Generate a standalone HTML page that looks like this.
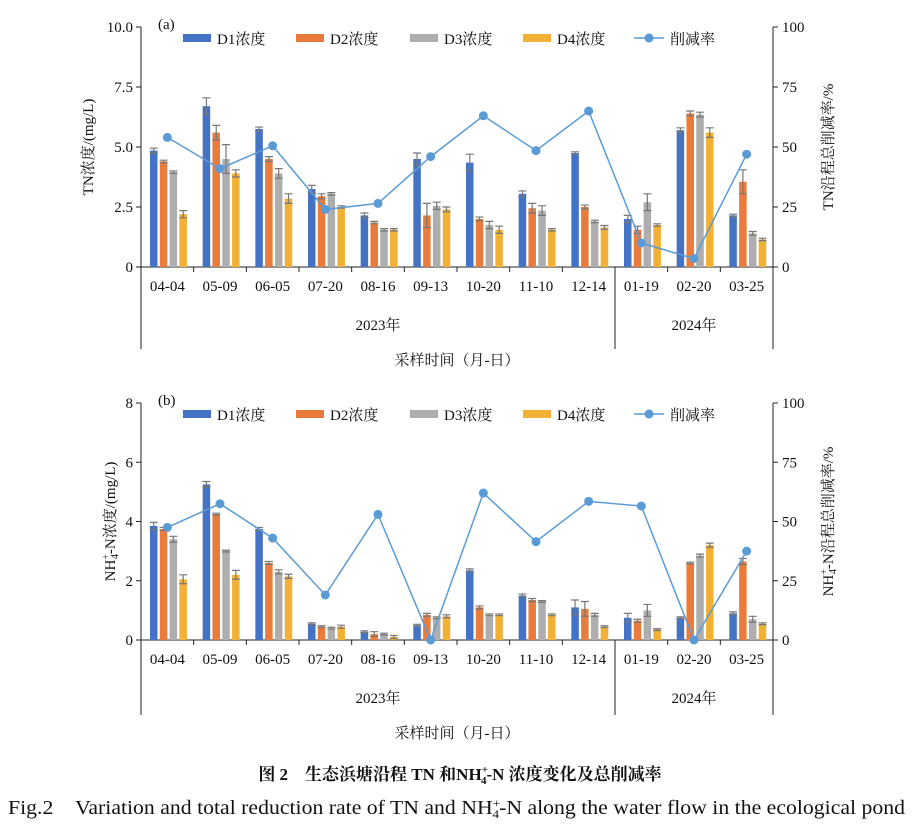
<!DOCTYPE html>
<html><head><meta charset="utf-8"><style>
body{margin:0;background:#fff;}
svg text{font-family:"Liberation Serif","Noto Serif CJK SC",serif;fill:#111;}
</style></head><body>
<svg id="svg" width="920" height="825" viewBox="0 0 920 825" xmlns="http://www.w3.org/2000/svg">
<text x="460" y="780" text-anchor="middle" font-size="17" font-weight="bold">图 2　生态浜塘沿程 TN 和NH<tspan font-size="11" dy="-7">+</tspan><tspan font-size="11" dx="-7" dy="11">4</tspan><tspan dy="-4">-N 浓度变化及总削减率</tspan></text>
<text x="8" y="814" textLength="897" lengthAdjust="spacingAndGlyphs" font-size="19.5">Fig.2　Variation and total reduction rate of TN and NH<tspan font-size="12" dy="-7">+</tspan><tspan font-size="12" dx="-7" dy="11">4</tspan><tspan dy="-4">-N along the water flow in the ecological pond</tspan></text>
</svg>
<script>
const cats=["04-04","05-09","06-05","07-20","08-16","09-13","10-20","11-10","12-14","01-19","02-20","03-25"];
const seriesNames=["D1浓度","D2浓度","D3浓度","D4浓度"];
const tnD1=[4.85,6.7,5.75,3.25,2.15,4.5,4.35,3.05,4.75,2.0,5.7,2.15];
const tnD2=[4.4,5.6,4.5,2.95,1.85,2.15,2.0,2.45,2.5,1.55,6.4,3.55];
const tnD3=[3.95,4.5,3.9,3.05,1.55,2.55,1.75,2.35,1.9,2.7,6.35,1.4];
const tnD4=[2.2,3.9,2.85,2.5,1.55,2.4,1.55,1.55,1.65,1.75,5.6,1.15];
const tnErr1=[0.1,0.35,0.08,0.15,0.1,0.25,0.35,0.12,0.05,0.15,0.1,0.05];
const tnErr2=[0.05,0.3,0.1,0.1,0.05,0.5,0.08,0.2,0.08,0.15,0.1,0.5];
const tnErr3=[0.05,0.6,0.2,0.05,0.05,0.15,0.15,0.2,0.05,0.35,0.1,0.08];
const tnErr4=[0.15,0.15,0.2,0.05,0.05,0.1,0.15,0.05,0.08,0.05,0.2,0.05];
const tnRate=[54,41,50.5,24,26.5,46,63,48.5,65,10,3.5,47];
const nhD1=[3.85,5.25,3.75,0.55,0.28,0.5,2.35,1.5,1.1,0.75,0.75,0.9];
const nhD2=[3.75,4.25,2.6,0.45,0.2,0.85,1.1,1.35,1.05,0.65,2.6,2.65];
const nhD3=[3.4,3.0,2.3,0.4,0.2,0.75,0.85,1.3,0.85,1.0,2.85,0.7];
const nhD4=[2.05,2.2,2.15,0.45,0.1,0.8,0.85,0.85,0.45,0.35,3.2,0.55];
const nhErr1=[0.12,0.1,0.05,0.03,0.03,0.03,0.05,0.05,0.25,0.15,0.03,0.05];
const nhErr2=[0.05,0.03,0.05,0.03,0.08,0.05,0.05,0.05,0.25,0.05,0.03,0.1];
const nhErr3=[0.1,0.03,0.07,0.03,0.03,0.03,0.03,0.03,0.05,0.2,0.05,0.1];
const nhErr4=[0.15,0.15,0.07,0.05,0.05,0.05,0.03,0.03,0.03,0.03,0.07,0.03];
const nhRate=[47.5,57.5,43,19,53,0,62,41.5,58.5,56.5,0,37.5];
const tnTicks=["0","2.5","5.0","7.5","10.0"];
const nhTicks=["0","2","4","6","8"];
const rateTicks=["0","25","50","75","100"];

const NS="http://www.w3.org/2000/svg";
const svg=document.getElementById('svg');
const barCol=["#4472c4","#e97b3c","#aeaeae","#f2b134"];
function mk(tag,attrs,parent){const e=document.createElementNS(NS,tag);for(const k in attrs)e.setAttribute(k,attrs[k]);(parent||svg).appendChild(e);return e;}

function panel(p){
  const L=141,R=773,T=p.top,B=p.bottom;
  const cw=(R-L)/cats.length;
  const y=v=>B-(v/p.max)*(B-T);
  const yr=v=>B-(v/100)*(B-T);
  const g=mk('g',{});
  
  
  const ax=mk('path',{d:`M${L},${T}V${B}H${R}V${T}`,stroke:'#222',fill:'none','stroke-width':1},g);
  
  
  for(let i=0;i<5;i++){
    const v=p.max*i/4,yy=y(v);
    mk('line',{x1:L-5,x2:L,y1:yy,y2:yy,stroke:'#222'},g);
    mk('line',{x1:R,x2:R+5,y1:yy,y2:yy,stroke:'#222'},g);
    const t=mk('text',{x:L-8,y:yy+5,'text-anchor':'end','font-size':15},g);t.textContent=p.ticks[i];
    
    
    const t2=mk('text',{x:R+9,y:yy+5,'font-size':15},g);t2.textContent=rateTicks[i];
    
    
  }
  for(let i=0;i<=cats.length;i++){
    const xx=L+i*cw;
    mk('line',{x1:xx,x2:xx,y1:B,y2:B+(i==0||i==9||i==12?p.sepLen:5),stroke:'#222'},g);
  }
  cats.forEach((c,i)=>{
    const t=mk('text',{x:L+(i+0.5)*cw,y:B+24,'text-anchor':'middle','font-size':15},g);t.textContent=c;
    
    
  });
  const yl1=mk('text',{x:L+4.5*cw,y:B+63,'text-anchor':'middle','font-size':15},g);yl1.textContent='2023年';
  
  
  const yl2=mk('text',{x:L+10.5*cw,y:B+63,'text-anchor':'middle','font-size':15},g);yl2.textContent='2024年';
  
  
  const xt=mk('text',{x:457,y:B+98,'text-anchor':'middle','font-size':15},g);xt.textContent='采样时间（月-日）';
  
  
  const pl=mk('text',{x:158,y:T+2,'font-size':15},g);pl.textContent=p.label;
  
  
  const yt=mk('text',{transform:`translate(${p.yTitleX},${(T+B)/2}) rotate(-90)`,'text-anchor':'middle','font-size':15},g);
  yt.innerHTML=p.yTitle;
  
  
  const yt2=mk('text',{transform:`translate(833,${(T+B)/2}) rotate(-90)`,'text-anchor':'middle','font-size':15},g);
  yt2.innerHTML=p.y2Title;
  
  
  p.series.forEach((s,k)=>{
    s.forEach((v,i)=>{
      const x0=L+i*cw+9+k*9.8;
      const r=mk('rect',{x:x0,y:y(v),width:7.5,height:B-y(v),fill:barCol[k]},g);
      
      
      const e=p.errs[k][i],cx=x0+3.75;
      const eb=mk('path',{d:`M${cx},${y(v+e)}V${y(v-e)}M${cx-4},${y(v+e)}h8M${cx-4},${y(v-e)}h8`,stroke:'#777','stroke-width':1.2,fill:'none'},g);
      
      
    });
  });
  const pts=p.rate.map((v,i)=>[L+(i+0.5)*cw,yr(v)]);
  const ln=mk('polyline',{points:pts.map(q=>q.join(',')).join(' '),fill:'none',stroke:'#5b9bd5','stroke-width':1.5},g);
  
  
  pts.forEach(q=>{
    const c=mk('circle',{cx:q[0],cy:q[1],r:4.5,fill:'#5b9bd5'},g);
    
    
  });
  const lx=[183,296,410,523];
  seriesNames.forEach((n,k)=>{
    const r=mk('rect',{x:lx[k],y:T+7,width:28,height:8,fill:barCol[k]},g);
    
    
    const t=mk('text',{x:lx[k]+34,y:T+17,'font-size':15,'font-family':'"Liberation Serif","Noto Sans CJK SC",sans-serif'},g);t.textContent=n;
    
    
  });
  mk('line',{x1:634,x2:664,y1:T+11,y2:T+11,stroke:'#5b9bd5','stroke-width':1.5},g);
  mk('circle',{cx:649,cy:T+11,r:4.5,fill:'#5b9bd5'},g);
  const lt=mk('text',{x:670,y:T+17,'font-size':15,'font-family':'"Liberation Serif","Noto Sans CJK SC",sans-serif'},g);lt.textContent='削减率';
  
  
}
panel({name:'tn',top:27,bottom:267,max:10,ticks:tnTicks,label:'(a)',sepLen:82,yTitleX:93,
  yTitle:'TN浓度/(mg/L)',y2Title:'TN沿程总削减率/%',
  series:[tnD1,tnD2,tnD3,tnD4],errs:[tnErr1,tnErr2,tnErr3,tnErr4],rate:tnRate});
panel({name:'nh4',top:403,bottom:640,max:8,ticks:nhTicks,label:'(b)',sepLen:75,yTitleX:115,
  yTitle:'NH<tspan font-size="10" dy="-6">+</tspan><tspan font-size="10" dx="-5" dy="9">4</tspan><tspan dy="-3">-N浓度/(mg/L)</tspan>',
  y2Title:'NH<tspan font-size="10" dy="-6">+</tspan><tspan font-size="10" dx="-5" dy="9">4</tspan><tspan dy="-3">-N沿程总削减率/%</tspan>',
  series:[nhD1,nhD2,nhD3,nhD4],errs:[nhErr1,nhErr2,nhErr3,nhErr4],rate:nhRate});
</script>
</body></html>
